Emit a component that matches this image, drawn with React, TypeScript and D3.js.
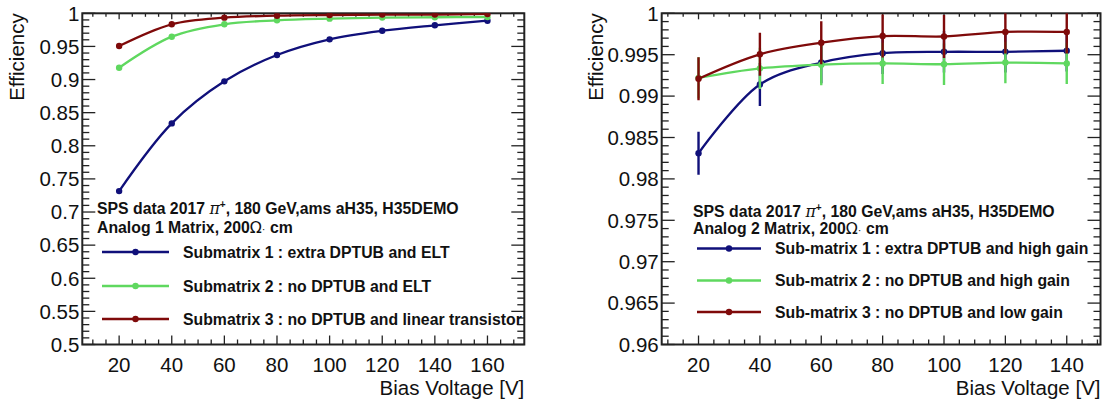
import React from "react";
import * as d3 from "d3";

// ---------- data ----------
const voltsLeft = [20, 40, 60, 80, 100, 120, 140, 160];
const effLeft1 = [0.7316, 0.8338, 0.8973, 0.937, 0.9607, 0.9737, 0.9819, 0.9888];
const effLeft2 = [0.9178, 0.9647, 0.9834, 0.9894, 0.9919, 0.9935, 0.994, 0.9944];
const effLeft3 = [0.9506, 0.9834, 0.9934, 0.9964, 0.9974, 0.998, 0.998, 0.999];

const voltsRight = [20, 40, 60, 80, 100, 120, 140];
const effRight1 = [0.9831, 0.9914, 0.99405, 0.99518, 0.99535, 0.99535, 0.99548];
const effRight2 = [0.9922, 0.99335, 0.9938, 0.99395, 0.99385, 0.99405, 0.99395];
const effRight3 = [0.9921, 0.99505, 0.99645, 0.99725, 0.9972, 0.99775, 0.99775];
const errRight1 = [0.0026, 0.0026, 0.0025, 0.0025, 0.0025, 0.0025, 0.0025];
const errRight2 = [0.0025, 0.0025, 0.0025, 0.0025, 0.0025, 0.0025, 0.0025];
const errRight3 = [0.0026, 0.0026, 0.0026, 0.0026, 0.0026, 0.0026, 0.0026];

const yTicksLeft = [0.5, 0.55, 0.6, 0.65, 0.7, 0.75, 0.8, 0.85, 0.9, 0.95, 1];
const yTickLabelsLeft = ["0.5", "0.55", "0.6", "0.65", "0.7", "0.75", "0.8", "0.85", "0.9", "0.95", "1"];
const yTicksRight = [0.96, 0.965, 0.97, 0.975, 0.98, 0.985, 0.99, 0.995, 1];
const yTickLabelsRight = ["0.96", "0.965", "0.97", "0.975", "0.98", "0.985", "0.99", "0.995", "1"];
const xTicksLeft = [20, 40, 60, 80, 100, 120, 140, 160];
const xTicksRight = [20, 40, 60, 80, 100, 120, 140];

const legendLeft = [
  "Submatrix 1 : extra DPTUB and ELT",
  "Submatrix 2 : no DPTUB and ELT",
  "Submatrix 3 : no DPTUB and linear transistor",
];
const legendRight = [
  "Sub-matrix 1 : extra DPTUB and high gain",
  "Sub-matrix 2 : no DPTUB and high gain",
  "Sub-matrix 3 : no DPTUB and low gain",
];

const COLORS = ["#10107a", "#5fd85f", "#7f0a0a"];
const FONT = "'Liberation Sans', Arial, Helvetica, sans-serif";

type Series = { x: number[]; y: number[]; err?: number[] };

type PanelProps = {
  id: string;
  left: number;
  right: number;
  top: number;
  bottom: number;
  xDomain: [number, number];
  yDomain: [number, number];
  xMajor: number[];
  xMinorStep: number;
  yMajor: number[];
  yLabels: string[];
  yMinorStep: number;
  series: Series[];
  legend: string[];
  matrixName: string;
  legX: number;
  headerY: [number, number];
  entryY: number[];
  legLine: [number, number];
  legTextX: number;
};

function Panel(p: PanelProps) {
  const x = d3.scaleLinear().domain(p.xDomain).range([p.left, p.right]);
  const y = d3.scaleLinear().domain(p.yDomain).range([p.bottom, p.top]);
  const line = d3
    .line<[number, number]>()
    .x((d) => x(d[0]))
    .y((d) => y(d[1]))
    .curve(d3.curveCatmullRom.alpha(0.5));

  const xMinor: number[] = [];
  for (let v = Math.ceil(p.xDomain[0] / p.xMinorStep) * p.xMinorStep; v <= p.xDomain[1] + 1e-9; v += p.xMinorStep) {
    if (!p.xMajor.some((m) => Math.abs(m - v) < 1e-6)) xMinor.push(v);
  }
  const yMinor: number[] = [];
  const nY = Math.round((p.yDomain[1] - p.yDomain[0]) / p.yMinorStep);
  for (let i = 0; i <= nY; i++) {
    const v = p.yDomain[0] + i * p.yMinorStep;
    if (!p.yMajor.some((m) => Math.abs(m - v) < 1e-7)) yMinor.push(v);
  }

  const axisColor = "#222";
  const clipId = `clip-${p.id}`;

  return (
    <g>
      <defs>
        <clipPath id={clipId}>
          <rect x={p.left} y={p.top} width={p.right - p.left} height={p.bottom - p.top} />
        </clipPath>
      </defs>

      {/* ticks */}
      <g stroke={axisColor} strokeWidth={1.3}>
        {p.xMajor.map((v) => (
          <g key={`xM${v}`}>
            <line x1={x(v)} x2={x(v)} y1={p.bottom} y2={p.bottom - 9} />
            <line x1={x(v)} x2={x(v)} y1={p.top} y2={p.top + 6} />
          </g>
        ))}
        {xMinor.map((v) => (
          <g key={`xm${v}`}>
            <line x1={x(v)} x2={x(v)} y1={p.bottom} y2={p.bottom - 5} />
            <line x1={x(v)} x2={x(v)} y1={p.top} y2={p.top + 3.5} />
          </g>
        ))}
        {p.yMajor.map((v) => (
          <g key={`yM${v}`}>
            <line x1={p.left} x2={p.left + 13} y1={y(v)} y2={y(v)} />
            <line x1={p.right} x2={p.right - 13} y1={y(v)} y2={y(v)} />
          </g>
        ))}
        {yMinor.map((v) => (
          <g key={`ym${v}`}>
            <line x1={p.left} x2={p.left + 7} y1={y(v)} y2={y(v)} />
            <line x1={p.right} x2={p.right - 7} y1={y(v)} y2={y(v)} />
          </g>
        ))}
      </g>

      {/* frame */}
      <rect
        x={p.left}
        y={p.top}
        width={p.right - p.left}
        height={p.bottom - p.top}
        fill="none"
        stroke={axisColor}
        strokeWidth={2}
      />

      {/* tick labels */}
      <g fontFamily={FONT} fontSize={20.5} fill="#111">
        {p.yMajor.map((v, i) => (
          <text key={`yl${v}`} x={p.left - 3} y={y(v) + 7.3} textAnchor="end">
            {p.yLabels[i]}
          </text>
        ))}
        {p.xMajor.map((v) => (
          <text key={`xl${v}`} x={x(v)} y={p.bottom + 27} textAnchor="middle">
            {v}
          </text>
        ))}
        <text x={p.right} y={p.bottom + 50.5} textAnchor="end">
          Bias Voltage [V]
        </text>
        <text transform={`translate(${p.left - 58.5},${p.top}) rotate(-90)`} textAnchor="end">
          Efficiency
        </text>
      </g>

      {/* series */}
      <g clipPath={`url(#${clipId})`}>
        {p.series.map((s, si) => {
          const pts: [number, number][] = s.x.map((xv, i) => [xv, s.y[i]]);
          return (
            <g key={`s${si}`}>
              {s.err &&
                s.x.map((xv, i) => (
                  <line
                    key={`e${i}`}
                    x1={x(xv)}
                    x2={x(xv)}
                    y1={y(s.y[i] - s.err![i])}
                    y2={y(s.y[i] + s.err![i])}
                    stroke={COLORS[si]}
                    strokeWidth={2.4}
                  />
                ))}
              <path d={line(pts) ?? ""} fill="none" stroke={COLORS[si]} strokeWidth={2.3} />
              {pts.map((d, i) => (
                <circle key={`c${i}`} cx={x(d[0])} cy={y(d[1])} r={3.2} fill={COLORS[si]} />
              ))}
            </g>
          );
        })}
      </g>

      {/* legend */}
      <g fontFamily={FONT} fontSize={15.8} fontWeight="bold" fill="#111">
        <text x={p.legX} y={p.headerY[0]}>
          SPS data 2017{"  "}
          <tspan fontWeight="normal" fontStyle="italic" fontFamily="'DejaVu Serif', serif">
            π
          </tspan>
          <tspan fontSize={10} dy={-6}>
            +
          </tspan>
          <tspan dy={6}>, 180 GeV,ams aH35, H35DEMO</tspan>
        </text>
        <text x={p.legX} y={p.headerY[1]}>
          {p.matrixName}, 200
          <tspan fontWeight="normal" fontFamily="'DejaVu Sans', sans-serif">
            Ω
          </tspan>
          <tspan fontWeight="normal" fontSize={11}>
            ·
          </tspan>{" "}
          cm
        </text>
        {p.legend.map((t, i) => (
          <g key={`lg${i}`}>
            <line
              x1={p.legLine[0]}
              x2={p.legLine[1]}
              y1={p.entryY[i] - 5.5}
              y2={p.entryY[i] - 5.5}
              stroke={COLORS[i]}
              strokeWidth={2.6}
            />
            <circle cx={(p.legLine[0] + p.legLine[1]) / 2} cy={p.entryY[i] - 5.5} r={3.2} fill={COLORS[i]} />
            <text x={p.legTextX} y={p.entryY[i]}>
              {t}
            </text>
          </g>
        ))}
      </g>
    </g>
  );
}

export default function App() {
  return (
    <svg
      width={1112}
      height={405}
      style={{ position: "absolute", left: 0, top: 0, background: "#fff" }}
    >
      <rect x={0} y={0} width={1112} height={405} fill="#fff" />
      <Panel
        id="L"
        left={82.3}
        right={524.3}
        top={13.3}
        bottom={344.5}
        xDomain={[6, 174]}
        yDomain={[0.5, 1]}
        xMajor={xTicksLeft}
        xMinorStep={5}
        yMajor={yTicksLeft}
        yLabels={yTickLabelsLeft}
        yMinorStep={0.01}
        series={[
          { x: voltsLeft, y: effLeft1 },
          { x: voltsLeft, y: effLeft2 },
          { x: voltsLeft, y: effLeft3 },
        ]}
        legend={legendLeft}
        matrixName="Analog 1 Matrix"
        legX={97}
        headerY={[214, 233]}
        entryY={[257.5, 291.5, 324.5]}
        legLine={[102, 169]}
        legTextX={183}
      />
      <Panel
        id="R"
        left={661.7}
        right={1100.5}
        top={13.3}
        bottom={344.5}
        xDomain={[8, 151]}
        yDomain={[0.96, 1]}
        xMajor={xTicksRight}
        xMinorStep={5}
        yMajor={yTicksRight}
        yLabels={yTickLabelsRight}
        yMinorStep={0.001}
        series={[
          { x: voltsRight, y: effRight1, err: errRight1 },
          { x: voltsRight, y: effRight2, err: errRight2 },
          { x: voltsRight, y: effRight3, err: errRight3 },
        ]}
        legend={legendRight}
        matrixName="Analog 2 Matrix"
        legX={693}
        headerY={[216.5, 234]}
        entryY={[254, 286, 317.5]}
        legLine={[697, 761]}
        legTextX={775}
      />
    </svg>
  );
}
